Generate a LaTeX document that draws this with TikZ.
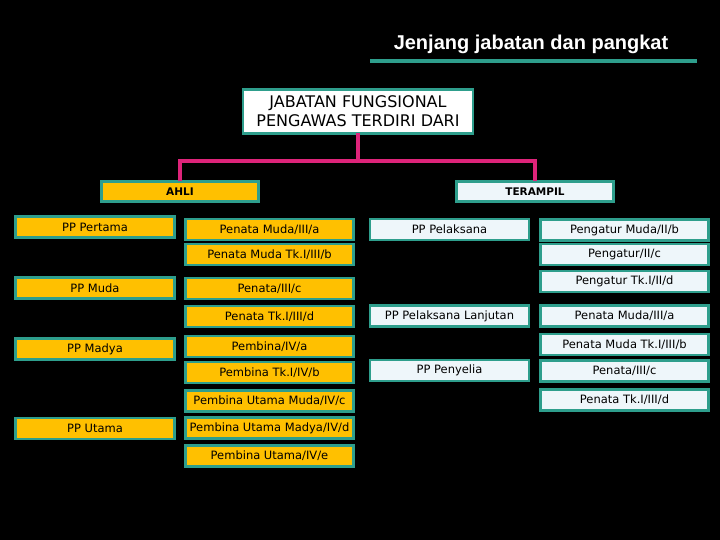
\documentclass[tikz,border=0pt]{standalone}
\usepackage{fontspec}
\setmainfont{DejaVu Sans}
\newfontfamily\titlefont{Liberation Sans}
\usetikzlibrary{calc}
\definecolor{tealline}{RGB}{46,158,140}
\definecolor{pinkline}{RGB}{222,36,122}
\definecolor{gold}{RGB}{255,192,0}
\definecolor{icewhite}{RGB}{238,246,250}
\tikzset{
  slot/.style={draw=tealline, line width=2.5pt, minimum height=21pt, inner sep=0pt, outer sep=0pt, font=\fontsize{11.5}{13}\selectfont, text=black},
  ahlibox/.style={slot, fill=gold},
  trambox/.style={slot, fill=icewhite},
  ppwide/.style={minimum width=159pt},
  gradewide/.style={minimum width=168pt},
  headbox/.style={draw=tealline, line width=2.5pt, minimum height=20pt, minimum width=157pt, inner sep=0pt, outer sep=0pt, font=\bfseries\fontsize{10.5}{12}\selectfont},
  branch/.style={draw=pinkline, line width=3.5pt}
}
\begin{document}
\begin{tikzpicture}[x=1pt, y=-1pt]
		%%%%% START %%%%%
		\fill[black] (0,0) rectangle (720,540);
		\useasboundingbox (0,0) rectangle (720,540);
		
		% title
		\node[text=white, font=\titlefont\bfseries\fontsize{20}{24}\selectfont] (title) at (531,44) {Jenjang jabatan dan pangkat};
		\draw[tealline, line width=4pt] (370,61) -- (697,61);
		
		% root and the two branches
		\node[draw=tealline, line width=2.5pt, fill=white, minimum width=230pt, minimum height=44pt, inner sep=0pt, outer sep=0pt, align=center, font=\fontsize{16}{19}\selectfont] (root) at (358,111.5) {JABATAN FUNGSIONAL\\PENGAWAS TERDIRI DARI};
		\node[headbox, fill=gold] (ahli) at (180,191.5) {AHLI};
		\node[headbox, fill=icewhite] (terampil) at (535,191.5) {TERAMPIL};
		\coordinate (bus) at (0,161);
		\draw[branch] (root.south) -- (root.south |- bus);
		\draw[branch] (ahli.north) |- (terampil.north |- bus) -- (terampil.north);
		
		% ahli: jenjang
		\node[ahlibox, ppwide] (pertama) at (95,227) {PP Pertama};
		\node[ahlibox, ppwide] (muda) at (95,288) {PP Muda};
		\node[ahlibox, ppwide] (madya) at (95,349) {PP Madya};
		\node[ahlibox, ppwide] (utama) at (95,428.5) {PP Utama};
		
		% ahli: pangkat
		\node[ahlibox, gradewide] (a1) at (269.5,229.5) {Penata Muda/III/a};
		\node[ahlibox, gradewide] (a2) at (269.5,254.5) {Penata Muda Tk.I/III/b};
		\node[ahlibox, gradewide] (a3) at (269.5,288.5) {Penata/III/c};
		\node[ahlibox, gradewide] (a4) at (269.5,316.5) {Penata Tk.I/III/d};
		\node[ahlibox, gradewide] (a5) at (269.5,346.5) {Pembina/IV/a};
		\node[ahlibox, gradewide] (a6) at (269.5,372.5) {Pembina Tk.I/IV/b};
		\node[ahlibox, gradewide] (a7) at (269.5,401) {Pembina Utama Muda/IV/c};
		\node[ahlibox, gradewide] (a8) at (269.5,428) {Pembina Utama Madya/IV/d};
		\node[ahlibox, gradewide] (a9) at (269.5,456) {Pembina Utama/IV/e};
		
		% terampil: jenjang
		\node[trambox, ppwide] (pelaksana) at (449.5,229.5) {PP Pelaksana};
		\node[trambox, ppwide] (lanjutan) at (449.5,316) {PP Pelaksana Lanjutan};
		\node[trambox, ppwide] (penyelia) at (449.5,370.5) {PP Penyelia};
		
		% terampil: pangkat
		\node[trambox, gradewide] (t1) at (624.5,230) {Pengatur Muda/II/b};
		\node[trambox, gradewide] (t2) at (624.5,254.5) {Pengatur/II/c};
		\node[trambox, gradewide] (t3) at (624.5,281.5) {Pengatur Tk.I/II/d};
		\node[trambox, gradewide] (t4) at (624.5,316) {Penata Muda/III/a};
		\node[trambox, gradewide] (t5) at (624.5,344.5) {Penata Muda Tk.I/III/b};
		\node[trambox, gradewide] (t6) at (624.5,371) {Penata/III/c};
		\node[trambox, gradewide] (t7) at (624.5,400) {Penata Tk.I/III/d};
		%%%%% END %%%%%
\end{tikzpicture}
\end{document}
